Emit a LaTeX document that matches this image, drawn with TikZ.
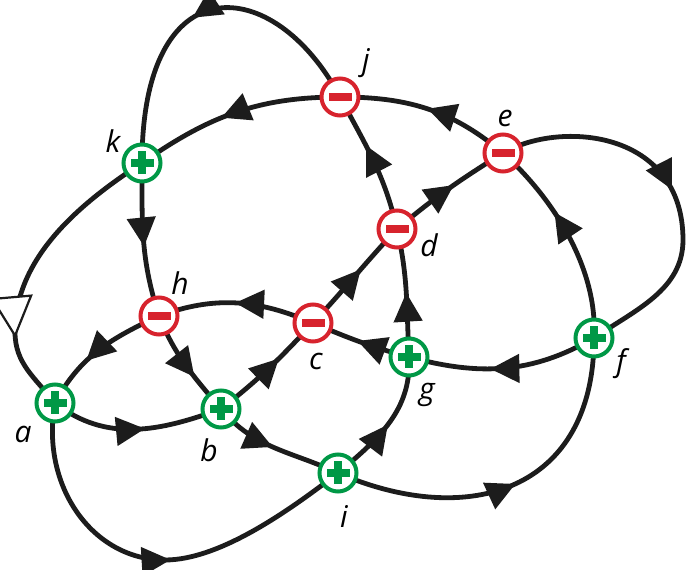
\documentclass[tikz,border=0pt]{standalone}
\usepackage{fontspec}
\setmainfont{Open Sans}
\usetikzlibrary{arrows.meta,decorations.markings,backgrounds}
\definecolor{kgreen}{RGB}{0,152,70}
\definecolor{kred}{RGB}{215,35,45}
\definecolor{kline}{RGB}{28,28,28}
\begin{document}
\begin{tikzpicture}[x=1pt,y=1pt,
  strand/.style={draw=kline, line width=4.8pt, postaction={decorate},
    decoration={markings, mark=at position #1 with {\arrow[kline]{Triangle[length=29pt,width=28pt]}}}},
  openstrand/.style={draw=kline, line width=4.8pt, postaction={decorate},
    decoration={markings, mark=at position #1 with {\arrow[kline]{Triangle[open,fill=white,length=42pt,width=42pt,line width=2.2pt]}}}},
  cross/.style={circle, fill=white, line width=4pt, minimum size=37pt, inner sep=0pt},
  poscross/.style={cross, draw=kgreen},
  negcross/.style={cross, draw=kred},
  lab/.style={anchor=base, font=\fontsize{30}{30}\selectfont\itshape, inner sep=0pt}
]
\useasboundingbox (0,0) rectangle (686,570);

% crossings
\node[poscross] (k) at (142,407) {};
\node[negcross] (j) at (340,473) {};
\node[negcross] (e) at (503,417) {};
\node[negcross] (d) at (397,341) {};
\node[negcross] (h) at (159,254) {};
\node[negcross] (c) at (313,247) {};
\node[poscross] (g) at (409,213) {};
\node[poscross] (f) at (594,232) {};
\node[poscross] (a) at (55,167) {};
\node[poscross] (b) at (221,161) {};
\node[poscross] (i) at (338,97) {};

\foreach \n in {k,g,f,a,b,i} {
  \fill[kgreen] ([shift={(-11.5,-4)}]\n.center) rectangle ([shift={(11.5,4)}]\n.center);
  \fill[kgreen] ([shift={(-4,-11.5)}]\n.center) rectangle ([shift={(4,11.5)}]\n.center);
}
\foreach \n in {j,e,d,h,c}
  \fill[kred] ([shift={(-11.5,-3.7)}]\n.center) rectangle ([shift={(11.5,3.7)}]\n.center);

% helper points of the outer loops
\coordinate (rr) at (683,330);
\coordinate (bt) at (165,10);
\coordinate (lp) at (15,238);

\begin{scope}[on background layer]
\path[strand=0.54] (k.center) to[out=-90,in=108] (h.center);
\path[strand=0.57] (j.center) to[out=180,in=35] (k.center);
\path[strand=0.50] (e.center) to[out=140,in=0] (j.center);
\path[strand=0.62] (d.center) to[out=103,in=-62] (j.center);
\path[strand=0.55] (d.center) to[out=40,in=212] (e.center);
\path[strand=0.50] (e.center) .. controls (560,450) and (683,440) .. (rr)
                              .. controls (683,280) and (635,260) .. (f.center);
\path[strand=0.63] (f.center) .. controls (598,300) and (555,370) .. (e.center);
\path[strand=0.57] (f.center) to[out=210,in=-15] (g.center);
\path[strand=0.53] (g.center) to[out=165,in=-23] (c.center);
\path[strand=0.50] (g.center) to[out=93,in=-77] (d.center);
\path[strand=0.51] (c.center) to[out=157,in=20] (h.center);
\path[strand=0.57] (c.center) to[out=47,in=227] (d.center);
\path[strand=0.61] (b.center) to[out=38,in=227] (c.center);
\path[strand=0.63] (h.center) to[out=-68,in=130] (b.center);
\path[strand=0.62] (h.center) to[out=205,in=62] (a.center);
\path[strand=0.55] (a.center) to[out=-38,in=200] (b.center);
\path[strand=0.48] (b.center) to[out=-50,in=155] (i.center);
\path[strand=0.49] (i.center) to[out=40,in=-87] (g.center);
\path[strand=0.51] (i.center) .. controls (470,40) and (594,80) .. (f.center);
\path[strand=0.54] (a.center) .. controls (40,85) and (92,10) .. (bt)
                              .. controls (220,10) and (290,60) .. (i.center);
\path[openstrand=0.745] (k.center) to[out=213,in=90,looseness=0.9] (lp) to[out=-90,in=128] (a.center);
\path[strand=0.54] (j.center) .. controls (274,597) and (142,607) .. (k.center);
\end{scope}

% labels
\node[lab] (kl) at (113,417) {k};
\node[lab] (jl) at (366,499) {j};
\node[lab] (el) at (505,443) {e};
\node[lab] (dl) at (429,313) {d};
\node[lab] (hl) at (180,275) {h};
\node[lab] (cl) at (316,200) {c};
\node[lab] (gl) at (427,170) {g};
\node[lab] (fl) at (621,198) {f};
\node[lab] (al) at (23,127) {a};
\node[lab] (bl) at (209,108) {b};
\node[lab] (il) at (344,42) {i};
\end{tikzpicture}
\end{document}
